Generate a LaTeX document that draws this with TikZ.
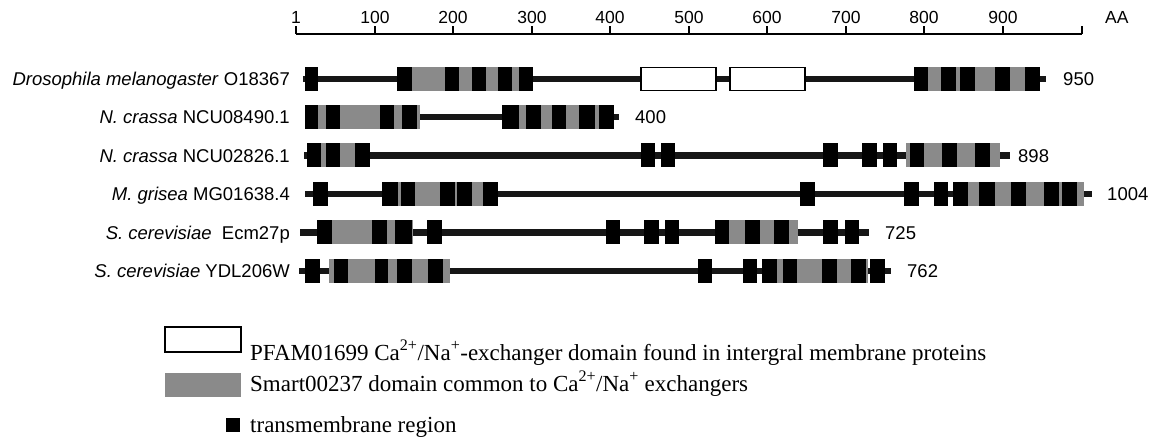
\documentclass[tikz,border=0pt]{standalone}
\usepackage{fontspec}
\setmainfont{Liberation Serif}
\setsansfont{Liberation Sans}
\definecolor{smgray}{HTML}{8A8A8A}
\definecolor{bbcol}{HTML}{161616}
\tikzset{
  backbone/.style={draw=bbcol, line width=6.5pt},
  tmbox/.style={fill=black},
  smbox/.style={fill=smgray},
  pfbox/.style={draw=black, fill=white, line width=1.2pt},
  scaleline/.style={draw=black, line width=1.3pt},
  rowlabel/.style={anchor=base east, inner sep=0pt, font=\sffamily\fontsize{18.5}{20}\selectfont},
  numlabel/.style={anchor=base west, inner sep=0pt, font=\sffamily\fontsize{18.5}{20}\selectfont},
  ticklabel/.style={anchor=base, inner sep=0pt, font=\sffamily\fontsize{17.5}{19}\selectfont},
  legtext/.style={anchor=base west, inner sep=0pt, font=\fontsize{23}{25}\selectfont}
}
\newcommand\protrow[6]{%
  % #1 y, #2 line start, #3 line end, #4 gray spans, #5 black spans, #6 white spans
  \draw[backbone] (#2,#1) -- (#3,#1);
  \foreach \a/\b in {#4} {\fill[smbox] (\a,#1-12) rectangle (\b,#1+12);}
  \foreach \a/\b in {#5} {\fill[tmbox] (\a,#1-12) rectangle (\b,#1+12);}
  \foreach \a/\b in {#6} {\draw[pfbox] (\a,#1-11.5) rectangle (\b,#1+11.5);}
}
\begin{document}
\begin{tikzpicture}[x=1pt,y=-1pt]
\useasboundingbox (0,0) rectangle (1151,438);
% scale bar
\draw[scaleline] (296,34) -- (1082,34);
\foreach \x/\t in {296/1,375/100,453/200,532/300,610/400,689/500,767/600,846/700,924/800,1003/900} {
  \draw[scaleline] (\x,34) -- (\x,26);
  \node[ticklabel] (t\t) at (\x,24) {\t};
}
\draw[scaleline] (1082,34) -- (1082,26);
\node[ticklabel, anchor=base west] (aa) at (1105,24) {AA};
% rows
\protrow{79}{303}{1046}{405/525,920/1030}
  {305/318,397/412,445/459,472/486,498/512,519/533,914/928,941/956,960/975,995/1010,1025/1040}
  {641/716,730/805}
\node[rowlabel] (r1) at (290,85.6) {\textit{Drosophila melanogaster} O18367};
\node[numlabel] (n1) at (1063,85.6) {950};
\protrow{117}{305}{619}{318/420,519/599}
  {305/318,326/340,380/394,402/417,502/519,526/541,552/566,579/595,599/614}
  {}
\node[rowlabel] (r2) at (290,123.6) {\textit{N. crassa} NCU08490.1};
\node[numlabel] (n2) at (635,123.6) {400};
\protrow{155.5}{304}{1010}{321/355,906/1000}
  {307/321,326/340,355/370,641/655,661/675,823/838,862/877,883/897,910/924,942/957,975/990}
  {}
\node[rowlabel] (r3) at (290,162.1) {\textit{N. crassa} NCU02826.1};
\node[numlabel] (n3) at (1018,162.1) {898};
\protrow{194}{305}{1092}{398/483,968/1084}
  {313/328,382/398,401/415,440/455,457/472,483/498,800/815,904/919,934/948,953/968,979/995,1011/1026,1044/1059,1062/1077}
  {}
\node[rowlabel] (r4) at (290,200.6) {\textit{M. grisea} MG01638.4};
\node[numlabel] (n4) at (1107,200.6) {1004};
\protrow{232.5}{300}{869}{332/413,729/798}
  {317/332,372/387,395/412,427/442,606/620,644/659,665/679,715/729,745/760,774/789,823/838,845/859}
  {}
\node[rowlabel] (r5) at (290,239.1) {\textit{S. cerevisiae}\ \ Ecm27p};
\node[numlabel] (n5) at (885,239.1) {725};
\protrow{271}{299}{891}{329/450,777/868}
  {305/320,334/348,375/388,397/412,428/443,698/712,743/757,762/777,783/797,822/837,851/866,870/885}
  {}
\node[rowlabel] (r6) at (290,277.6) {\textit{S. cerevisiae} YDL206W};
\node[numlabel] (n6) at (907,277.6) {762};
% legend
\draw[pfbox] (165,327) rectangle (241,352);
\fill[smbox] (165,373) rectangle (241,397);
\fill[tmbox] (226,418) rectangle (240,432);
\node[legtext] (l1) at (250,360) {PFAM01699 Ca\textsuperscript{2+}/Na\textsuperscript{+}-exchanger domain found in intergral membrane proteins};
\node[legtext] (l2) at (250,391) {Smart00237 domain common to Ca\textsuperscript{2+}/Na\textsuperscript{+} exchangers};
\node[legtext] (l3) at (250,432) {transmembrane region};
\end{tikzpicture}
\end{document}
